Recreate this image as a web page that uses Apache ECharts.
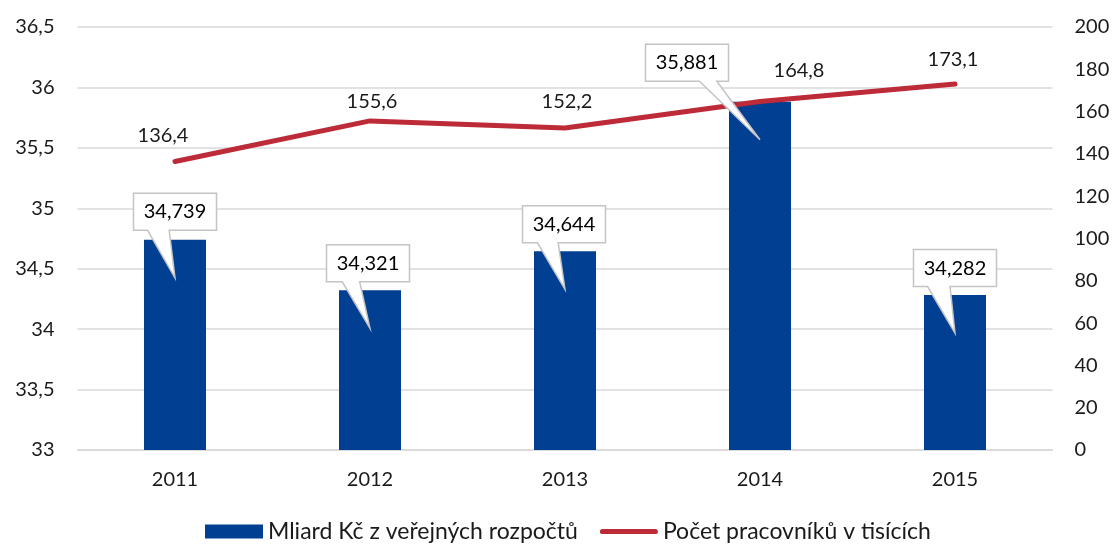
<!DOCTYPE html>
<html>
<head>
<meta charset="utf-8">
<script src="https://cdn.jsdelivr.net/npm/echarts@6/dist/echarts.min.js"></script>
<style>
  html, body { margin: 0; padding: 0; background: #ffffff; }
  #chart { width: 1114px; height: 545px; }
</style>
</head>
<body>
<div id="chart"></div>
<script>
// ---- data ----
const years = ['2011', '2012', '2013', '2014', '2015'];
const budgetBillions = [34.739, 34.321, 34.644, 35.881, 34.282];
const staffThousands = [136.4, 155.6, 152.2, 164.8, 173.1];
const seriesNames = ['Mliard Kč z veřejných rozpočtů', 'Počet pracovníků v tisících'];
const leftAxisRange = { min: 33, max: 36.5, interval: 0.5 };
const rightAxisRange = { min: 0, max: 200, interval: 20 };

// ---- styling (placement of the manual labels as in the source chart) ----
const lineLabelOffsets = [[-12, -26], [2, -19], [2, -27], [39, -31], [-2, -24]];
const calloutPlacement = [
  { dx: 0, dy: -28, b1: 0.17, b2: 0.43 },
  { dx: -2, dy: -27, b1: 0.19, b2: 0.40 },
  { dx: -1, dy: -27, b1: 0.18, b2: 0.43 },
  { dx: -73, dy: -39, b1: 0.65, b2: 0.86 },
  { dx: 0, dy: -27, b1: 0.17, b2: 0.44 }
];

const FONT = 'Lato, "Open Sans", sans-serif';
const TEXT = '#1a1a1a';
const fmt = v => String(v).replace('.', ',');

const chart = echarts.init(document.getElementById('chart'), null, { renderer: 'canvas' });

const option = {
  backgroundColor: '#ffffff',
  animation: false,
  textStyle: { fontFamily: FONT },
  grid: { left: 77.5, right: 61.5, top: 27, bottom: 95, containLabel: false },
  legend: {
    left: 205, top: 520, padding: 0,
    itemWidth: 58, itemHeight: 14, itemGap: 22,
    textStyle: { fontFamily: FONT, fontSize: 23, color: TEXT },
    data: [
      { name: seriesNames[0], icon: 'rect' },
      { name: seriesNames[1], icon: 'path://M0,0h0.01v0.01h-0.01z M2.5,4.4 h53 a2.6,2.6 0 0 1 0,5.2 h-53 a2.6,2.6 0 0 1 0,-5.2z M58,14h-0.01v-0.01h0.01z' }
    ]
  },
  xAxis: {
    type: 'category',
    data: years,
    axisTick: { show: false },
    axisLine: { lineStyle: { color: '#d9d9d9', width: 1.5 } },
    axisLabel: { fontFamily: FONT, fontSize: 20, color: TEXT, margin: 20 }
  },
  yAxis: [
    {
      type: 'value',
      min: leftAxisRange.min, max: leftAxisRange.max, interval: leftAxisRange.interval,
      axisLine: { show: false }, axisTick: { show: false },
      axisLabel: { fontFamily: FONT, fontSize: 20, color: TEXT, margin: 23, formatter: fmt },
      splitLine: { lineStyle: { color: '#d9d9d9', width: 1.5 } }
    },
    {
      type: 'value',
      min: rightAxisRange.min, max: rightAxisRange.max, interval: rightAxisRange.interval,
      axisLine: { show: false }, axisTick: { show: false },
      axisLabel: { fontFamily: FONT, fontSize: 20, color: TEXT, margin: 22, formatter: fmt },
      splitLine: { show: false }
    }
  ],
  series: [
    {
      name: seriesNames[0],
      type: 'bar',
      yAxisIndex: 0,
      barWidth: 62,
      data: budgetBillions,
      itemStyle: { color: '#003f91' },
      z: 2
    },
    {
      name: seriesNames[1],
      type: 'line',
      yAxisIndex: 1,
      data: staffThousands.map((v, i) => ({
        value: v,
        label: { offset: lineLabelOffsets[i] }
      })),
      symbol: 'circle',
      symbolSize: 1,
      showSymbol: true,
      itemStyle: { color: '#be2b38' },
      lineStyle: { color: '#be2b38', width: 5, cap: 'round', join: 'round' },
      label: {
        show: true,
        position: 'inside',
        fontFamily: FONT, fontSize: 20, color: TEXT,
        formatter: p => fmt(p.value)
      },
      z: 3
    },
    {
      name: 'callouts',
      type: 'custom',
      yAxisIndex: 0,
      z: 5,
      silent: true,
      data: budgetBillions.map((v, i) => [i, v]),
      renderItem: function (params, api) {
        const i = params.dataIndex;
        const val = api.value(1);
        const top = api.coord([api.value(0), val]);
        const st = calloutPlacement[i];
        const w = 83, h = 37;
        const cx = top[0] + st.dx, cy = top[1] + st.dy;
        const L = cx - w / 2, R = cx + w / 2, T = cy - h / 2, B = cy + h / 2;
        const tip = [top[0], top[1] + 38];
        const b1 = L + st.b1 * w, b2 = L + st.b2 * w;
        return {
          type: 'group',
          children: [
            {
              type: 'polygon',
              shape: { points: [[L, T], [R, T], [R, B], [b2, B], tip, [b1, B], [L, B]] },
              style: { fill: '#ffffff', stroke: '#c4c4c4', lineWidth: 1.5 }
            },
            {
              type: 'text',
              style: {
                text: fmt(val), x: cx, y: cy,
                align: 'center', verticalAlign: 'middle',
                font: '20px ' + FONT, fill: '#000000'
              }
            }
          ]
        };
      }
    }
  ]
};

chart.setOption(option);
</script>
</body>
</html>
